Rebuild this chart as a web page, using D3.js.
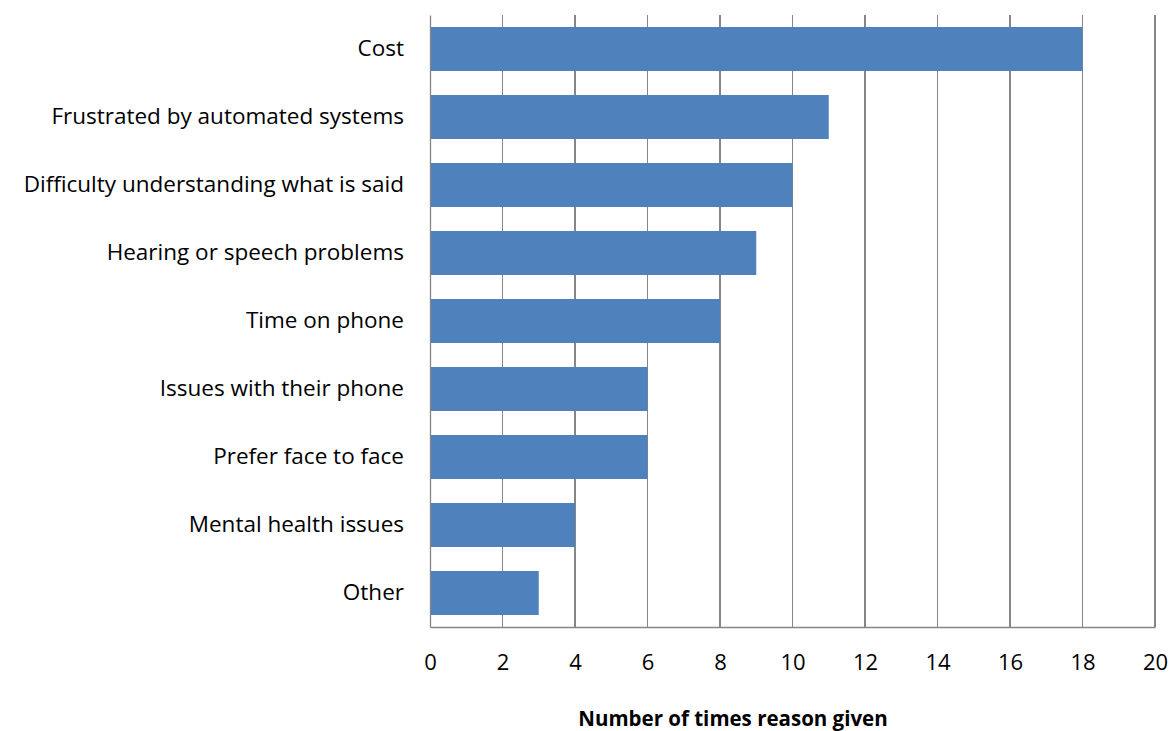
<!DOCTYPE html>
<html>
<head>
<meta charset="utf-8">
<script src="https://cdn.jsdelivr.net/npm/d3@7"></script>
<style>
  html, body { margin: 0; padding: 0; background: #fff; }
  svg { display: block; }
  text { font-family: "Open Sans", sans-serif; fill: #000; }
</style>
</head>
<body>
<svg id="chart" width="1173" height="731"></svg>
<script>
// Reasons for avoiding the phone, with how often each was given
const reasons = [
  "Cost",
  "Frustrated by automated systems",
  "Difficulty understanding what is said",
  "Hearing or speech problems",
  "Time on phone",
  "Issues with their phone",
  "Prefer face to face",
  "Mental health issues",
  "Other"
];
const counts = [18, 11, 10, 9, 8, 6, 6, 4, 3];
const xTicks = [0, 2, 4, 6, 8, 10, 12, 14, 16, 18, 20];
const xTitle = "Number of times reason given";

const svg = d3.select("#chart");
const margin = { top: 15, right: 18, bottom: 104, left: 430 };
const W = 1173, H = 731;
const plotW = W - margin.left - margin.right;
const plotH = H - margin.top - margin.bottom;
const FONT = "'Open Sans', sans-serif";

const g = svg.append("g").attr("transform", `translate(${margin.left},${margin.top})`);

const x = d3.scaleLinear().domain([0, 20]).range([0, plotW]);
const y = d3.scaleBand().domain(reasons).range([0, plotH])
  .paddingInner(0.353).paddingOuter(0.1765);

const gridColor = "#868686";

// vertical gridlines
g.append("g").selectAll("line").data(xTicks.slice(1)).join("line")
  .attr("x1", d => x(d)).attr("x2", d => x(d))
  .attr("y1", 0).attr("y2", plotH)
  .attr("stroke", gridColor).attr("stroke-width", 1.3)
  .attr("shape-rendering", "crispEdges");

// bars
const data = reasons.map((r, i) => ({ r, v: counts[i] }));
g.append("g").selectAll("rect").data(data).join("rect")
  .attr("x", x(0))
  .attr("y", d => y(d.r))
  .attr("width", d => x(d.v) - x(0))
  .attr("height", y.bandwidth())
  .attr("fill", "#4F81BD");

// x axis
const xAxis = g.append("g").attr("transform", `translate(0,${plotH})`)
  .call(d3.axisBottom(x).tickValues(xTicks).tickSize(0).tickPadding(27));
xAxis.select(".domain").attr("stroke", gridColor).attr("stroke-width", 1.3);
xAxis.selectAll("text").attr("font-size", 22).attr("font-family", FONT).attr("fill", "#000");

// y axis
const yAxis = g.append("g")
  .call(d3.axisLeft(y).tickSize(0).tickPadding(26));
yAxis.select(".domain").attr("stroke", gridColor).attr("stroke-width", 1.3);
yAxis.selectAll("text").attr("font-size", 22.5).attr("font-family", FONT).attr("fill", "#000");

// axis title
svg.append("text")
  .attr("x", 733).attr("y", 726)
  .attr("text-anchor", "middle")
  .attr("font-family", FONT)
  .attr("font-size", 20.5).attr("font-weight", "bold")
  .text(xTitle);
</script>
</body>
</html>
